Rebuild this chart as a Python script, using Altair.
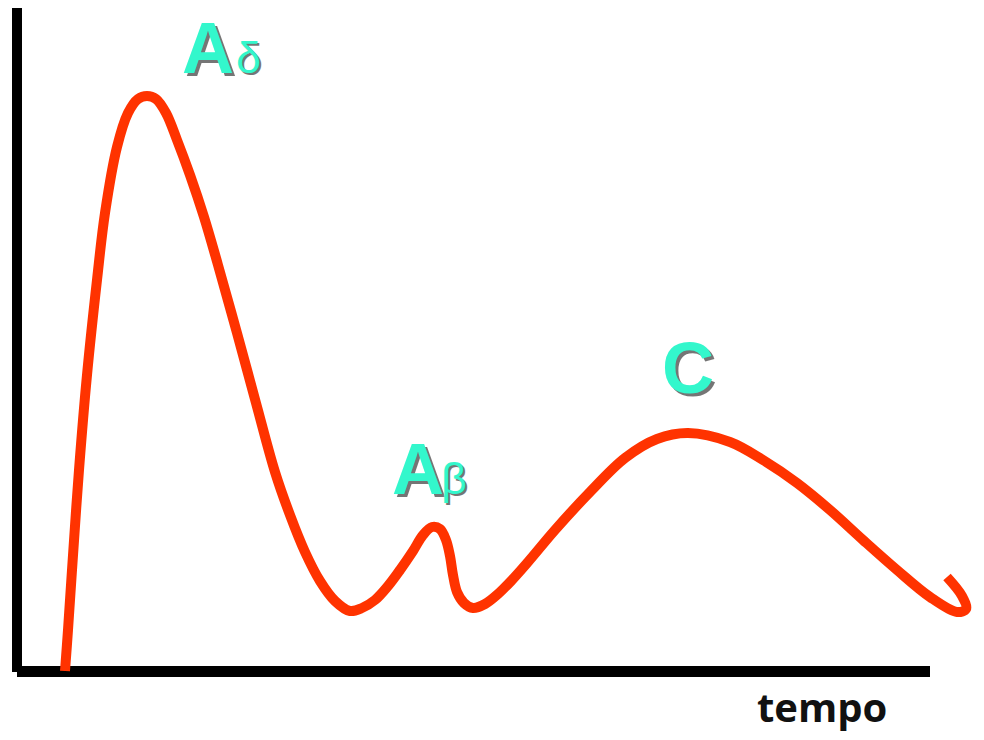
import altair as alt
import pandas as pd

# Curve: t = time (px from axis origin), amp = response height
t = [48, 51, 55, 62, 70, 80, 88, 100, 111, 121, 130, 139, 149, 160, 173, 187, 201,
     220, 239, 258, 273, 288, 303, 318, 333, 345, 358, 371, 383, 396, 406, 415, 423,
     429, 433, 436, 440, 447, 456, 468, 481, 495, 511, 538, 573, 608, 640, 671, 713,
     746, 780, 813, 846, 880, 913, 940, 949, 945, 930]
amp = [0, 41, 101, 201, 296, 391, 458, 524, 558, 572, 575, 572, 558, 531, 496, 454, 406,
       338, 268, 199, 156, 119, 90, 70, 60, 63, 71, 85, 101, 120, 136, 144, 142,
       131, 115, 96, 79, 68, 63, 67, 77, 91, 109, 141, 179, 213, 232, 238, 229,
       211, 188, 161, 131, 101, 74, 59, 62, 75, 94]

# Peak labels
peak_labels = ["A", "A", "C"]
peak_label_t = [165, 375, 645]
peak_label_amp = [598, 177, 278]
sub_labels = ["δ", "β"]
sub_label_t = [219, 424]
sub_label_amp = [598, 177]
x_title = "tempo"
x_title_t = [740]
x_title_amp = [-51]

curve = pd.DataFrame({"t": t, "amp": amp, "i": list(range(len(t)))})
peaks = pd.DataFrame({"label": peak_labels, "t": peak_label_t, "amp": peak_label_amp})
subs = pd.DataFrame({"label": sub_labels, "t": sub_label_t, "amp": sub_label_amp})
title_df = pd.DataFrame({"label": [x_title], "t": x_title_t, "amp": x_title_amp})

xs = alt.Scale(domain=[-9, 959], nice=False, zero=False)
ys = alt.Scale(domain=[-61, 663], nice=False, zero=False)


def X(f):
    return alt.X(f, type="quantitative", scale=xs, axis=None)


def Y(f):
    return alt.Y(f, type="quantitative", scale=ys, axis=None)


axis_v = alt.Chart(pd.DataFrame({"t": [0], "a0": [-1], "a1": [663]})).mark_rule(
    color="black", strokeWidth=10, strokeCap="butt", clip=False
).encode(x=X("t"), y=Y("a0"), y2="a1")

axis_h = alt.Chart(pd.DataFrame({"t0": [0], "t1": [913], "a": [-0.5]})).mark_rule(
    color="black", strokeWidth=11, strokeCap="butt", clip=False
).encode(x=X("t0"), x2="t1", y=Y("a"))

line = alt.Chart(curve).mark_line(
    color="#FF3300", strokeWidth=10, interpolate="catmull-rom",
    strokeCap="butt", strokeJoin="round", clip=False
).encode(x=X("t"), y=Y("amp"), order="i:Q")

big_font = "Liberation Sans Narrow, Arial Narrow, Liberation Sans"
teal = "#33F7CC"

peak_shadow = alt.Chart(peaks).mark_text(
    font=big_font, fontWeight="bold", fontSize=72, align="left", baseline="alphabetic",
    color="#1a1a1a", opacity=0.6, dx=3, dy=3
).encode(x=X("t"), y=Y("amp"), text="label:N")
peak_text = alt.Chart(peaks).mark_text(
    font=big_font, fontWeight="bold", fontSize=72, align="left", baseline="alphabetic",
    color=teal
).encode(x=X("t"), y=Y("amp"), text="label:N")

sub_shadow = alt.Chart(subs).mark_text(
    font="Liberation Sans", fontSize=45, align="left", baseline="alphabetic",
    color="#1a1a1a", opacity=0.6, dx=2, dy=2
).encode(x=X("t"), y=Y("amp"), text="label:N")
sub_text = alt.Chart(subs).mark_text(
    font="Liberation Sans", fontSize=45, align="left", baseline="alphabetic",
    color=teal
).encode(x=X("t"), y=Y("amp"), text="label:N")

title_text = alt.Chart(title_df).mark_text(
    font="Open Sans", fontWeight="bold", fontSize=40, align="left", baseline="alphabetic",
    color="#111111"
).encode(x=X("t"), y=Y("amp"), text="label:N")

chart = alt.layer(
    axis_v, axis_h, line, peak_shadow, peak_text, sub_shadow, sub_text, title_text
).properties(
    width=968, height=724, padding=0,
    autosize=alt.AutoSizeParams(type="none"),
    background="white"
).configure_view(stroke=None)

chart.save("out.html", embed_options={"renderer": "svg", "actions": False})
